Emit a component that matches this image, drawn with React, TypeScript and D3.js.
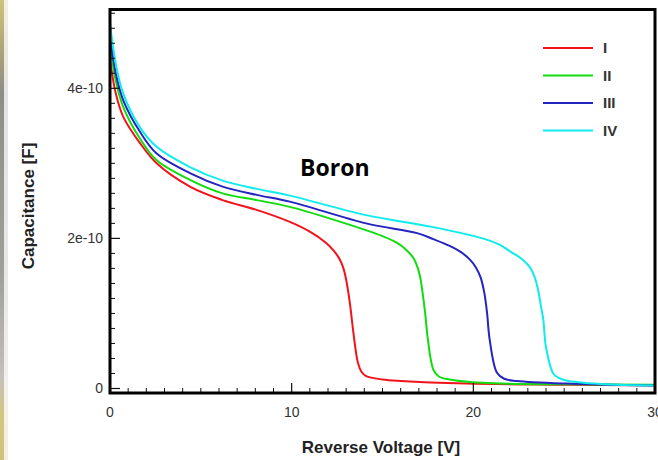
import React from "react";
import * as d3 from "d3";

// Reverse bias C–V sweeps for four boron-implanted samples (capacitance in units of 1e-10 F)
const seriesNames = ["I", "II", "III", "IV"];
const seriesColors = ["#f2121c", "#10dc10", "#2424c0", "#10ecec"];

const voltageI = [0, 0.3, 0.73, 1.65, 2.57, 4.4, 6.2, 8.07, 9.9, 11.0, 11.9, 12.3, 12.65, 12.85, 13.0, 13.12, 13.25, 13.4, 13.65, 13.85, 14.1, 15, 16.0, 19.6, 25, 30];
const capI = [4.4, 3.95, 3.62, 3.27, 3.0, 2.69, 2.51, 2.38, 2.22, 2.09, 1.94, 1.84, 1.72, 1.6, 1.45, 1.28, 1.05, 0.74, 0.34, 0.22, 0.165, 0.12, 0.1, 0.065, 0.05, 0.04];

const voltageII = [0, 0.3, 0.73, 1.65, 2.57, 4.4, 6.2, 8.07, 9.9, 12.3, 15.0, 15.8, 16.3, 16.7, 16.95, 17.1, 17.22, 17.35, 17.5, 17.8, 18.1, 18.7, 20.5, 25, 30];
const capII = [4.6, 4.12, 3.75, 3.33, 3.04, 2.78, 2.6, 2.51, 2.42, 2.25, 2.03, 1.94, 1.85, 1.74, 1.6, 1.45, 1.25, 1.0, 0.65, 0.25, 0.16, 0.12, 0.075, 0.055, 0.05];

const voltageIII = [0, 0.3, 0.73, 1.65, 2.57, 4.4, 6.2, 8.07, 9.9, 14.1, 16.9, 17.8, 18.7, 19.3, 19.8, 20.15, 20.4, 20.6, 20.75, 20.9, 21.3, 21.7, 22.4, 25.1, 30];
const capIII = [4.73, 4.22, 3.84, 3.42, 3.13, 2.87, 2.69, 2.58, 2.49, 2.2, 2.07, 1.99, 1.9, 1.82, 1.72, 1.61, 1.48, 1.28, 1.02, 0.65, 0.21, 0.13, 0.1, 0.065, 0.04];

const voltageIV = [0, 0.3, 0.73, 1.65, 2.57, 4.4, 6.2, 8.07, 9.9, 14.1, 17.8, 20.5, 21.4, 22.2, 22.7, 23.1, 23.35, 23.55, 23.72, 23.85, 24.0, 24.4, 24.7, 25.1, 27, 30];
const capIV = [4.87, 4.35, 3.93, 3.48, 3.22, 2.95, 2.77, 2.66, 2.57, 2.31, 2.15, 2.0, 1.92, 1.8, 1.72, 1.62, 1.5, 1.33, 1.1, 0.92, 0.55, 0.2, 0.14, 0.107, 0.06, 0.04];

const xTickValues = [0, 10, 20, 30];
const yTickValues = [0, 2e-10, 4e-10];
const yTickLabels = ["0", "2e-10", "4e-10"];

const W = 658;
const H = 460;
const left = 110;
const right = 655;
const top = 9.5;
const bottom = 393;

export default function App() {
  const x = d3.scaleLinear().domain([0, 30]).range([left, right]);
  const y = d3.scaleLinear().domain([-0.06e-10, 5.05e-10]).range([bottom, top]);

  const volts = [voltageI, voltageII, voltageIII, voltageIV];
  const caps = [capI, capII, capIII, capIV];

  const line = d3
    .line<[number, number]>()
    .x((d) => x(d[0]))
    .y((d) => y(d[1] * 1e-10))
    .curve(d3.curveCatmullRom.alpha(0.5));

  const xMinor = d3.range(1, 30).filter((v) => v % 10 !== 0);
  const yMinor = d3.range(1, 26).map((i) => i * 0.2e-10).filter((_, i) => (i + 1) % 10 !== 0);

  const tickFont = "'Liberation Sans', Arial, sans-serif";

  return (
    <svg
      width={W}
      height={H}
      style={{ position: "absolute", left: 0, top: 0, display: "block", background: "#fff" }}
    >
      <defs>
        <linearGradient id="edge" x1="0" y1="0" x2="0" y2="1">
          <stop offset="0" stopColor="#cdc27c" />
          <stop offset="0.12" stopColor="#a8a27a" />
          <stop offset="0.2" stopColor="#8e8e86" />
          <stop offset="0.6" stopColor="#a0a09a" />
          <stop offset="0.82" stopColor="#c4c0bc" />
          <stop offset="0.9" stopColor="#d2c684" />
          <stop offset="1" stopColor="#cfc27a" />
        </linearGradient>
        <clipPath id="plot">
          <rect x={left} y={top} width={right - left} height={bottom - top} />
        </clipPath>
      </defs>

      <rect x={0} y={0} width={W} height={H} fill="#fff" />
      <rect x={0} y={0} width={4} height={H} fill="url(#edge)" />
      <rect x={4} y={0} width={4} height={H} fill="url(#edge)" opacity={0.25} />

      {/* curves */}
      <g clipPath="url(#plot)">
        {volts.map((vs, i) => (
          <path
            key={seriesNames[i]}
            d={line(vs.map((v, j) => [v, caps[i][j]] as [number, number])) || ""}
            fill="none"
            stroke={seriesColors[i]}
            strokeWidth={2}
            strokeLinejoin="round"
          />
        ))}
      </g>

      {/* minor ticks */}
      {xMinor.map((v) => (
        <line key={"xm" + v} x1={x(v)} x2={x(v)} y1={bottom} y2={bottom - 5} stroke="#111" strokeWidth={1} />
      ))}
      {yMinor.map((v, i) => (
        <line key={"ym" + i} x1={left} x2={left + 5} y1={y(v)} y2={y(v)} stroke="#111" strokeWidth={1} />
      ))}
      {/* major ticks */}
      {xTickValues.slice(1, 3).map((v) => (
        <line key={"xM" + v} x1={x(v)} x2={x(v)} y1={bottom} y2={bottom - 10} stroke="#111" strokeWidth={1.2} />
      ))}
      {yTickValues.map((v) => (
        <line key={"yM" + v} x1={left} x2={left + 10} y1={y(v)} y2={y(v)} stroke="#111" strokeWidth={1.2} />
      ))}

      {/* frame */}
      <rect x={left} y={top} width={right - left} height={bottom - top} fill="none" stroke="#000" strokeWidth={3} />

      {/* tick labels */}
      {xTickValues.map((v) => (
        <text key={"xl" + v} x={x(v)} y={417} textAnchor="middle" fontFamily={tickFont} fontSize={14} fill="#333">
          {v}
        </text>
      ))}
      {yTickValues.map((v, i) => (
        <text key={"yl" + v} x={103} y={y(v) + 5} textAnchor="end" fontFamily={tickFont} fontSize={14} fill="#333">
          {yTickLabels[i]}
        </text>
      ))}

      {/* axis titles */}
      <text
        x={381}
        y={453}
        textAnchor="middle"
        fontFamily={tickFont}
        fontWeight="bold"
        fontSize={17}
        fill="#222"
      >
        Reverse Voltage [V]
      </text>
      <text
        transform={`translate(34,206) rotate(-90)`}
        textAnchor="middle"
        fontFamily={tickFont}
        fontWeight="bold"
        fontSize={17}
        fill="#222"
      >
        Capacitance [F]
      </text>

      {/* annotation */}
      <text x={300} y={176} fontFamily="'Open Sans', sans-serif" fontWeight="bold" fontSize={23} fill="#000">
        Boron
      </text>

      {/* legend */}
      {seriesNames.map((name, i) => {
        const ly = 48 + i * 27.5;
        return (
          <g key={"lg" + name}>
            <line x1={543} x2={593} y1={ly} y2={ly} stroke={seriesColors[i]} strokeWidth={2} />
            <text x={603} y={ly + 5} fontFamily={tickFont} fontWeight="bold" fontSize={15} fill="#333">
              {name}
            </text>
          </g>
        );
      })}
    </svg>
  );
}
